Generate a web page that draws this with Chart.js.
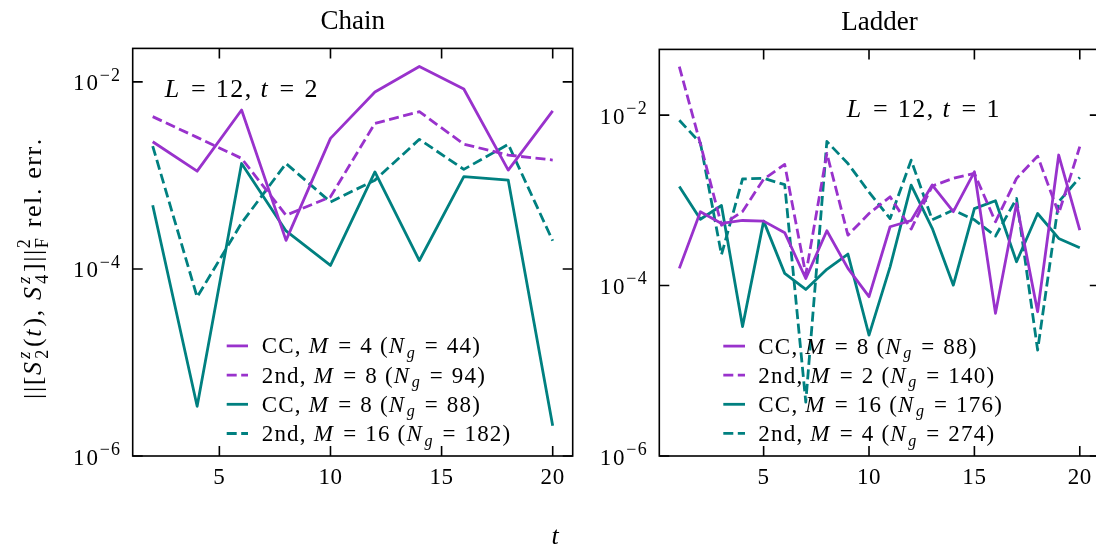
<!DOCTYPE html>
<html>
<head>
<meta charset="utf-8">
<script src="https://cdn.jsdelivr.net/npm/chart.js@4.4.1/dist/chart.umd.min.js"></script>
<style>
  html, body { margin: 0; padding: 0; background: #fff; overflow: hidden; }
  #wrap { position: relative; width: 1096px; height: 550px; overflow: hidden; }
  canvas { position: absolute; top: 0; }
  #chain { left: 0; }
  #ladder { left: 590px; }
</style>
</head>
<body>
<div id="wrap">
  <canvas id="chain" width="600" height="550"></canvas>
  <canvas id="ladder" width="520" height="550"></canvas>
</div>
<script>
// ---- data ----
const chainT = [2, 4, 6, 8, 10, 12, 14, 16, 18, 20];
const chainCC4 = [2.29e-3, 1.11e-3, 5.0e-3, 2.02e-4, 2.49e-3, 7.8e-3, 1.46e-2, 8.4e-3, 1.14e-3, 4.9e-3];
const chain2nd8 = [4.25e-3, 2.55e-3, 1.52e-3, 3.75e-4, 5.9e-4, 3.6e-3, 4.8e-3, 2.16e-3, 1.65e-3, 1.46e-3];
const chainCC8 = [4.8e-4, 3.4e-6, 1.34e-3, 2.55e-4, 1.09e-4, 1.09e-3, 1.23e-4, 9.7e-4, 8.9e-4, 2.1e-6];
const chain2nd16 = [2.06e-3, 5.0e-5, 3.1e-4, 1.34e-3, 5.2e-4, 8.9e-4, 2.43e-3, 1.16e-3, 2.15e-3, 2.0e-4];

const ladderT = [1, 2, 3, 4, 5, 6, 7, 8, 9, 10, 11, 12, 13, 14, 15, 16, 17, 18, 19, 20];
const ladderCC8 = [1.59e-4, 7.35e-4, 5.36e-4, 5.8e-4, 5.7e-4, 4.17e-4, 1.21e-4, 4.4e-4, 1.59e-4, 7.4e-5,
                   4.9e-4, 5.8e-4, 1.51e-3, 7.35e-4, 2.16e-3, 4.72e-5, 9.2e-4, 4.93e-5, 3.4e-3, 4.48e-4];
const ladder2nd2 = [3.7e-2, 4.6e-3, 5.1e-4, 7.4e-4, 1.77e-3, 2.64e-3, 1.35e-4, 3.55e-3, 3.9e-4, 7.0e-4,
                    1.1e-3, 4.6e-4, 1.47e-3, 1.81e-3, 2.07e-3, 5.6e-4, 1.81e-3, 3.3e-3, 7.0e-4, 4.26e-3];
const ladderCC16 = [1.45e-3, 6.0e-4, 8.7e-4, 3.3e-5, 5.7e-4, 1.39e-4, 9.0e-5, 1.55e-4, 2.34e-4, 2.62e-5,
                    1.66e-4, 1.51e-3, 4.7e-4, 1.01e-4, 8.0e-4, 9.9e-4, 1.9e-4, 7.0e-4, 3.57e-4, 2.78e-4];
const ladder2nd4 = [8.7e-3, 4.7e-3, 2.3e-4, 1.78e-3, 1.81e-3, 1.53e-3, 4.3e-6, 4.9e-3, 2.7e-3, 1.25e-3,
                    6.1e-4, 2.96e-3, 5.9e-4, 7.7e-4, 5.9e-4, 3.8e-4, 1.05e-3, 1.75e-5, 9.6e-4, 1.86e-3];

const chainLabels = ['CC, $M=4$ ($N_g=44$)', '2nd, $M=8$ ($N_g=94$)', 'CC, $M=8$ ($N_g=88$)', '2nd, $M=16$ ($N_g=182$)'];
const ladderLabels = ['CC, $M=8$ ($N_g=88$)', '2nd, $M=2$ ($N_g=140$)', 'CC, $M=16$ ($N_g=176$)', '2nd, $M=4$ ($N_g=274$)'];

const xTicks = [5, 10, 15, 20];
const xTickLabels = ['5', '10', '15', '20'];
const yTicks = [1e-6, 1e-4, 1e-2];
const yTickLabels = ['10^{\u22126}', '10^{\u22124}', '10^{\u22122}'];

const PURPLE = '#9932cc';
const TEAL = '#008080';
const FONT = '"Liberation Serif", "DejaVu Serif", serif';
const TICK = 10;

// ---- tiny rich-text helper: $..$ = math (italic letters), ^{..} / _{..} scripts ----
function parseRich(s) {
    const out = [];
    let math = false, i = 0, buf = '';
    const flush = () => {
        if (!buf) return;
        if (!math) out.push({ t: buf, it: false, math: false });
        else for (const ch of buf) out.push({ t: ch, it: /[A-Za-z]/.test(ch), math: true });
        buf = '';
    };
    const group = () => {
        if (s[i] === '{') { const j = s.indexOf('}', i); const g = s.slice(i + 1, j); i = j + 1; return g; }
        return s[i++];
    };
    while (i < s.length) {
        const c = s[i];
        if (c === '$') { flush(); math = !math; i++; }
        else if (c === '^' || c === '_') {
            flush();
            const sc = { sup: null, sub: null, math };
            while (s[i] === '^' || s[i] === '_') {
                const k = s[i++];
                const g = group();
                if (k === '^') sc.sup = g; else sc.sub = g;
            }
            out.push({ script: sc });
        } else { buf += c; i++; }
    }
    flush();
    return out;
}

function fontStr(size, italic) { return (italic ? 'italic ' : '') + size + 'px ' + FONT; }

// draws char by char so that a little extra tracking (ls) can widen Times toward CM metrics
function runText(ctx, txt, x, y, size, italic, ls, draw) {
    ctx.font = fontStr(size, italic);
    let cx = x;
    for (const ch of txt) {
        if (draw) ctx.fillText(ch, cx, y);
        cx += ctx.measureText(ch).width + ls;
    }
    return cx - x;
}

function layoutRich(ctx, toks, size, x, y, draw, st) {
    const ls = st.ls || 0, scr = st.scr || 0.7, rel = st.rel == null ? 0.3 : st.rel;
    let cx = x;
    for (const tk of toks) {
        if (tk.script) {
            const ss = size * scr;
            const both = tk.script.sup != null && tk.script.sub != null;
            let w = 0;
            const parts = [[tk.script.sup, -0.42 * size], [tk.script.sub, (both ? 0.28 : 0.2) * size]];
            for (const [txt, dy] of parts) {
                if (txt == null) continue;
                let sx = cx;
                for (const ch of txt) {
                    sx += runText(ctx, ch, sx, y + dy, ss, tk.script.math && /[A-Za-z]/.test(ch), ls * 0.7, draw);
                }
                w = Math.max(w, sx - cx);
            }
            cx += w + 0.06 * size;
        } else {
            const isRel = tk.math && tk.t === '=';
            if (isRel) cx += rel * size;
            cx += runText(ctx, tk.t, cx, y, size, tk.it, ls, draw) + (tk.it ? 0.06 * size : 0);
            if (isRel) cx += rel * size;
        }
    }
    return cx - x;
}

function drawRich(ctx, s, x, y, size, align, st) {
    st = st || {};
    const toks = parseRich(s);
    const w = layoutRich(ctx, toks, size, 0, 0, false, st);
    let x0 = x;
    if (align === 'right') x0 = x - w;
    else if (align === 'center') x0 = x - w / 2;
    layoutRich(ctx, toks, size, x0, y, true, st);
    return w;
}

// ---- frame, inward ticks, tick labels, legend and notes ----
const decorPlugin = {
    id: 'decor',
    afterDatasetsDraw(chart, args, o) {
        const { ctx, chartArea: a, scales: { x, y } } = chart;
        ctx.save();
        ctx.strokeStyle = '#000';
        ctx.lineWidth = 1.6;
        ctx.strokeRect(a.left, a.top, a.right - a.left, a.bottom - a.top);
        ctx.beginPath();
        for (const v of xTicks) {
            const px = x.getPixelForValue(v);
            ctx.moveTo(px, a.bottom); ctx.lineTo(px, a.bottom - TICK);
            ctx.moveTo(px, a.top); ctx.lineTo(px, a.top + TICK);
        }
        for (const v of yTicks) {
            const py = y.getPixelForValue(v);
            ctx.moveTo(a.left, py); ctx.lineTo(a.left + TICK, py);
            ctx.moveTo(a.right, py); ctx.lineTo(a.right - TICK, py);
        }
        ctx.stroke();

        ctx.fillStyle = '#000';
        ctx.textBaseline = 'alphabetic';
        ctx.textAlign = 'left';
        xTicks.forEach((v, i) => drawRich(ctx, xTickLabels[i], x.getPixelForValue(v), a.bottom + 28, 23, 'center', { ls: 0.6 }));
        yTicks.forEach((v, i) => drawRich(ctx, yTickLabels[i], a.left - 10, y.getPixelForValue(v) + 8.5, 23, 'right',
            { ls: 1.8, scr: 0.78 }));
        ctx.restore();
    },
    afterDraw(chart, args, o) {
        const { ctx, chartArea: a } = chart;
        ctx.save();
        ctx.textBaseline = 'alphabetic';
        ctx.textAlign = 'left';
        // legend, no frame
        const lg = o.legend;
        chart.data.datasets.forEach((ds, i) => {
            const ly = a.top + lg.y + i * lg.dy;
            const lx = a.left + lg.x;
            ctx.strokeStyle = ds.borderColor;
            ctx.lineWidth = ds.borderWidth;
            ctx.setLineDash(ds.borderDash || []);
            ctx.beginPath();
            ctx.moveTo(lx, ly); ctx.lineTo(lx + lg.handle, ly);
            ctx.stroke();
            ctx.setLineDash([]);
            ctx.fillStyle = '#000';
            drawRich(ctx, ds.label, lx + lg.handle + lg.gap, ly + 7.5, lg.size, 'left', { ls: 1.2, rel: 0.34 });
        });
        // in-axes note
        const n = o.note;
        ctx.fillStyle = '#000';
        drawRich(ctx, n.text, a.left + n.x, a.top + n.y, n.size, 'left', { ls: 1.4, rel: 0.34 });
        // figure-level labels
        for (const t of (o.extra || [])) {
            ctx.save();
            ctx.translate(t.x, t.y);
            if (t.rotate) ctx.rotate(t.rotate);
            drawRich(ctx, t.text, 0, t.dy || 0, t.size, 'center', { ls: t.ls || 0 });
            ctx.restore();
        }
        ctx.restore();
    }
};

function series(label, xs, ys, color, dashed) {
    return {
        label,
        data: xs.map((t, i) => ({ x: t, y: ys[i] })),
        borderColor: color,
        borderWidth: 2.8,
        borderDash: dashed ? [10, 4.5] : [],
        borderJoinStyle: 'round',
        borderCapStyle: 'butt',
        pointRadius: 0,
        tension: 0,
        fill: false
    };
}

function makeChart(id, cfg) {
    return new Chart(document.getElementById(id), {
        type: 'line',
        data: { datasets: cfg.datasets },
        plugins: [decorPlugin],
        options: {
            responsive: false,
            animation: false,
            devicePixelRatio: 1,
            layout: { padding: cfg.padding },
            scales: {
                x: { type: 'linear', min: cfg.xMin, max: cfg.xMax, display: false },
                y: { type: 'logarithmic', min: 1e-6, max: cfg.yMax, display: false }
            },
            plugins: {
                legend: { display: false },
                tooltip: { enabled: false },
                title: {
                    display: true,
                    text: cfg.title,
                    color: '#000',
                    font: { family: FONT, size: 27, weight: 'normal' },
                    padding: { top: 6, bottom: 10 }
                },
                decor: { legend: cfg.legend, note: cfg.note, extra: cfg.extra }
            }
        }
    });
}

makeChart('chain', {
    title: 'Chain',
    xMin: 1.1, xMax: 20.9, yMax: 0.0228,
    padding: { left: 132.7, right: 27.3, top: 0, bottom: 94 },
    datasets: [
        series(chainLabels[0], chainT, chainCC4, PURPLE, false),
        series(chainLabels[1], chainT, chain2nd8, PURPLE, true),
        series(chainLabels[2], chainT, chainCC8, TEAL, false),
        series(chainLabels[3], chainT, chain2nd16, TEAL, true)
    ],
    legend: { x: 94, y: 297.5, dy: 29.2, handle: 21.3, gap: 13.7, size: 23 },
    note: { text: '$L=12$, $t=2$', x: 32, y: 48.5, size: 26 },
    extra: [
        { text: '||[$S^z_2(t)$, $S^z_4$]||^2_F rel. err.', x: 33, y: 268, dy: 8, size: 26, ls: 1.6, rotate: -Math.PI / 2 },
        { text: '$t$', x: 556, y: 544, size: 26 }
    ]
});

makeChart('ladder', {
    title: 'Ladder',
    xMin: 0.05, xMax: 20.95, yMax: 0.059,
    padding: { left: 69.3, right: 10.2, top: 1, bottom: 94 },
    datasets: [
        series(ladderLabels[0], ladderT, ladderCC8, PURPLE, false),
        series(ladderLabels[1], ladderT, ladder2nd2, PURPLE, true),
        series(ladderLabels[2], ladderT, ladderCC16, TEAL, false),
        series(ladderLabels[3], ladderT, ladder2nd4, TEAL, true)
    ],
    legend: { x: 64, y: 296.7, dy: 29.1, handle: 21.7, gap: 13.3, size: 23 },
    note: { text: '$L=12$, $t=1$', x: 187.4, y: 67.7, size: 26 }
});
</script>
</body>
</html>
